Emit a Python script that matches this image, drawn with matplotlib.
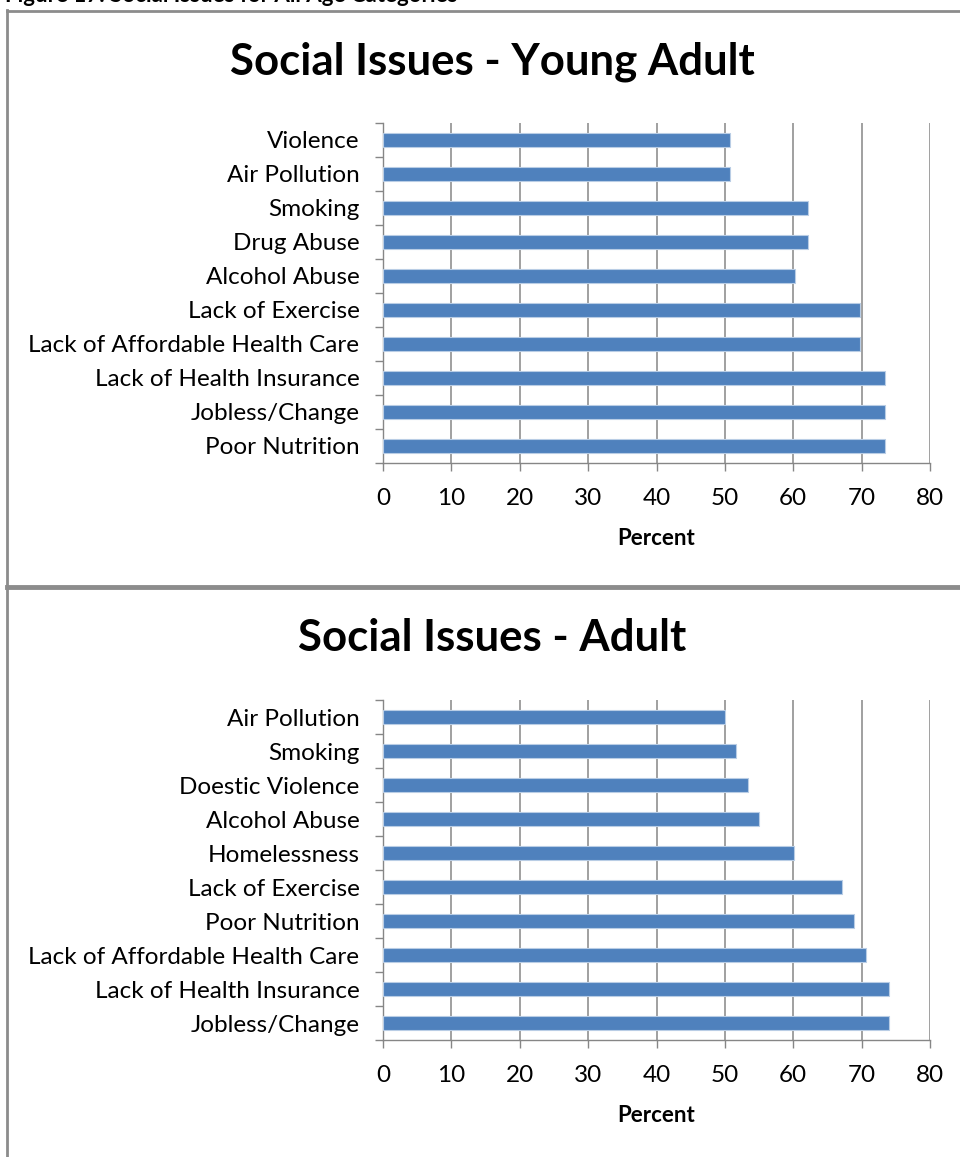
import matplotlib
matplotlib.use("Agg")
import matplotlib.pyplot as plt
from matplotlib.lines import Line2D
import numpy as np

plt.rcParams['font.family'] = ['Lato', 'DejaVu Sans']

# Data (top to bottom order as displayed)
young_categories = ["Violence", "Air Pollution", "Smoking", "Drug Abuse", "Alcohol Abuse",
                    "Lack of Exercise", "Lack of Affordable Health Care",
                    "Lack of Health Insurance", "Jobless/Change", "Poor Nutrition"]
young_values = [50.7, 50.7, 62.2, 62.2, 60.3, 69.8, 69.8, 73.4, 73.4, 73.4]

adult_categories = ["Air Pollution", "Smoking", "Doestic Violence", "Alcohol Abuse",
                    "Homelessness", "Lack of Exercise", "Poor Nutrition",
                    "Lack of Affordable Health Care", "Lack of Health Insurance",
                    "Jobless/Change"]
adult_values = [50.0, 51.7, 53.4, 55.0, 60.1, 67.1, 68.9, 70.6, 74.0, 74.0]

x_ticks = [0, 10, 20, 30, 40, 50, 60, 70, 80]
titles = ["Social Issues - Young Adult", "Social Issues - Adult"]
xlabel = "Percent"
caption = "Figure 17: Social Issues for All Age Categories"

W, H = 960, 1157
fig = plt.figure(figsize=(W / 100, H / 100), dpi=100)

def px_axes(left, top, right, bottom):
    return fig.add_axes([left / W, 1 - bottom / H, (right - left) / W, (bottom - top) / H])

bar_color = "#4F81BD"
grid_color = "#A0A0A0"

def draw(ax, cats, vals, title, title_y):
    n = len(cats)
    pos = np.arange(n)[::-1]  # first category at top
    ax.barh(pos, vals, height=0.4, color=bar_color, edgecolor="#B9CDE5", linewidth=0.8, zorder=3)
    ax.set_xlim(0, 80)
    ax.set_ylim(-0.5, n - 0.5)
    ax.set_xticks(x_ticks)
    ax.set_xticklabels([str(t) for t in x_ticks], fontsize=17.5)
    ax.set_yticks(np.arange(-0.5, n, 1.0))
    ax.set_yticklabels([])
    ax.set_yticks(pos, minor=True)
    ax.set_yticklabels(cats, minor=True, fontsize=17.5)
    ax.tick_params(axis='y', which='major', length=6, color="#868686", width=1, direction='out')
    ax.tick_params(axis='y', which='minor', length=0, pad=17)
    ax.tick_params(axis='x', length=6, color="#868686", width=1, direction='out', pad=12)
    ax.xaxis.grid(True, color=grid_color, linewidth=1.4, zorder=0)
    ax.set_axisbelow(True)
    for s in ['top', 'right']:
        ax.spines[s].set_visible(False)
    for s in ['left', 'bottom']:
        ax.spines[s].set_color("#868686")
        ax.spines[s].set_linewidth(1)
    ax.set_xlabel(xlabel, fontsize=16, fontweight='bold', labelpad=14)
    fig.text(492 / W, 1 - title_y / H, title, ha='center', va='center',
             fontsize=31.5, fontweight='bold')

ax1 = px_axes(383, 123, 930, 463)
draw(ax1, young_categories, young_values, titles[0], 62)
ax2 = px_axes(383, 700, 930, 1040)
draw(ax2, adult_categories, adult_values, titles[1], 638)

# Caption (cut off at top edge, as in the source page)
fig.text(5 / W, 1 - (-4) / H, caption, ha='left', va='center', fontsize=16, fontweight='bold')

# Panel borders
border = "#8C8C8C"
fig.add_artist(Line2D([7 / W, 7 / W], [0, 1 - 10 / H], color=border, linewidth=2, transform=fig.transFigure))
fig.add_artist(Line2D([7 / W, 1], [1 - 11 / H, 1 - 11 / H], color=border, linewidth=2, transform=fig.transFigure))
fig.add_artist(Line2D([7 / W, 1], [1 - 587 / H, 1 - 587 / H], color=border, linewidth=3.5, transform=fig.transFigure))

fig.savefig("out.png", dpi=100)
